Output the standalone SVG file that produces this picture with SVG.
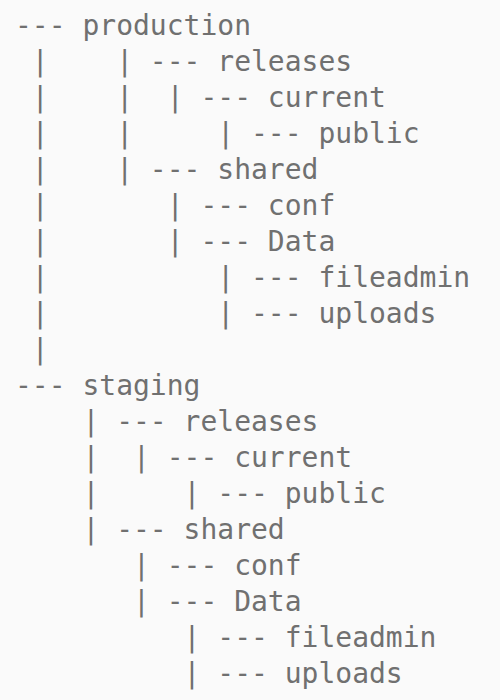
<svg xmlns="http://www.w3.org/2000/svg" width="500" height="700" viewBox="0 0 500 700" xml:space="preserve">
<style>
text{font-family:"DejaVu Sans Mono","Liberation Mono",monospace;font-size:28px;fill:#707070;white-space:pre}
</style>
<rect width="500" height="700" fill="#fafafa"/>
<g id="tree">
<text x="15" y="34.5">--- production</text>
<text x="15" y="70.5"> |    | --- releases</text>
<text x="15" y="106.5"> |    |  | --- current</text>
<text x="15" y="142.5"> |    |     | --- public</text>
<text x="15" y="178.5"> |    | --- shared</text>
<text x="15" y="214.5"> |       | --- conf</text>
<text x="15" y="250.5"> |       | --- Data</text>
<text x="15" y="286.5"> |          | --- fileadmin</text>
<text x="15" y="322.5"> |          | --- uploads</text>
<text x="15" y="358.5"> |</text>
<text x="15" y="394.5">--- staging</text>
<text x="15" y="430.5">    | --- releases</text>
<text x="15" y="466.5">    |  | --- current</text>
<text x="15" y="502.5">    |     | --- public</text>
<text x="15" y="538.5">    | --- shared</text>
<text x="15" y="574.5">       | --- conf</text>
<text x="15" y="610.5">       | --- Data</text>
<text x="15" y="646.5">          | --- fileadmin</text>
<text x="15" y="682.5">          | --- uploads</text>
</g>
</svg>
